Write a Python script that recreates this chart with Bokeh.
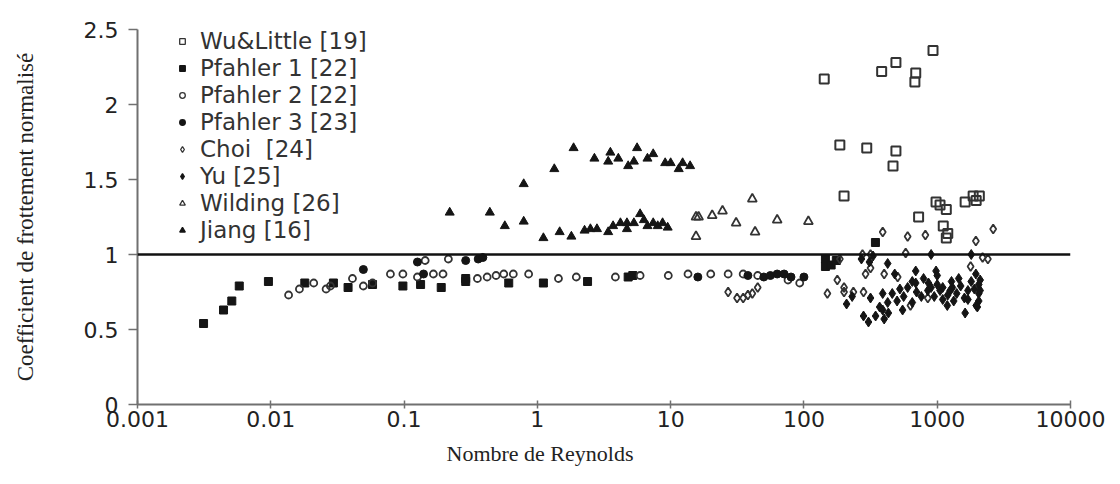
from bokeh.plotting import figure
from bokeh.models import (Legend, LegendItem, Span, Title, FixedTicker,
                          CustomJSTickFormatter)
from bokeh.embed import file_html
from bokeh.resources import INLINE

# ---------------- data ----------------
x_ticks = [0.001, 0.01, 0.1, 1, 10, 100, 1000, 10000]
x_tick_labels = ["0.001", "0.01", "0.1", "1", "10", "100", "1000", "10000"]
y_ticks = [0, 0.5, 1, 1.5, 2, 2.5]
y_tick_labels = ["0", "0.5", "1", "1.5", "2", "2.5"]

series_names = ["Wu&Little [19]", "Pfahler 1 [22]", "Pfahler 2 [22]", "Pfahler 3 [23]",
                "Choi  [24]", "Yu [25]", "Wilding [26]", "Jiang [16]"]

wu_re = [142, 383, 490, 690, 680, 930, 186, 296, 490, 466, 200, 980, 1050, 1170,
         1620, 1860, 2070, 1960, 725, 1110, 1200, 1170]
wu_cf = [2.17, 2.22, 2.28, 2.21, 2.15, 2.36, 1.73, 1.71, 1.69, 1.59, 1.39, 1.35, 1.33, 1.30,
         1.35, 1.39, 1.39, 1.36, 1.25, 1.19, 1.14, 1.11]

pf1_re = [0.00313, 0.00442, 0.0051, 0.0058, 0.0096, 0.018, 0.0295, 0.038, 0.058, 0.098,
          0.133, 0.19, 0.29, 0.29, 0.61, 1.11, 2.38, 4.8, 5.2, 145, 145, 160, 175, 344]
pf1_cf = [0.54, 0.63, 0.69, 0.79, 0.82, 0.81, 0.81, 0.78, 0.80, 0.79,
          0.80, 0.78, 0.84, 0.82, 0.81, 0.81, 0.82, 0.85, 0.86, 0.97, 0.92, 0.93, 0.96, 1.08]

pf2_re = [0.0136, 0.0164, 0.021, 0.026, 0.028, 0.041, 0.0495, 0.058, 0.079, 0.098,
          0.126, 0.144, 0.166, 0.196, 0.215, 0.355, 0.42, 0.49, 0.56, 0.66, 0.86, 1.44,
          1.96, 3.85, 5.9, 9.6, 13.5, 20, 27, 35, 45, 76, 93]
pf2_cf = [0.73, 0.77, 0.81, 0.77, 0.79, 0.84, 0.79, 0.81, 0.87, 0.87,
          0.85, 0.96, 0.87, 0.87, 0.97, 0.84, 0.85, 0.86, 0.87, 0.87, 0.87, 0.84,
          0.85, 0.85, 0.86, 0.86, 0.87, 0.87, 0.87, 0.87, 0.86, 0.83, 0.81]

pf3_re = [0.0495, 0.126, 0.14, 0.29, 0.36, 0.39, 16, 38, 50, 56, 63, 71, 80, 100]
pf3_cf = [0.90, 0.95, 0.87, 0.96, 0.97, 0.98, 0.85, 0.86, 0.85, 0.86, 0.87, 0.87, 0.85, 0.85]

choi_re = [27, 31.5, 35, 38, 41, 45, 390, 600, 815, 2630, 1950, 580, 1780, 2400, 2190,
           275, 316, 186, 316, 290, 400, 505, 178, 150, 200, 235, 280, 850, 630, 200]
choi_cf = [0.75, 0.71, 0.71, 0.73, 0.74, 0.78, 1.15, 1.12, 1.13, 1.17, 1.09, 1.01, 0.92, 0.97, 0.98,
           1.00, 1.00, 0.97, 0.91, 0.87, 0.87, 0.85, 0.83, 0.74, 0.75, 0.75, 0.75, 0.71, 0.66, 0.78]

yu_re = [310, 425, 690, 980, 1280, 1950, 2050, 2050, 2050, 2000, 209, 230, 316, 280, 305,
         345, 390, 425, 460, 390, 500, 525, 600, 650, 690, 790, 860, 900, 1000, 1050, 1100,
         1200, 1300, 1400, 1500, 1600, 1700, 1800, 1900, 1190, 1620, 1960, 1330, 650, 560,
         700, 760, 950, 1100, 1250, 330, 900, 1800, 270, 480, 850, 1000, 1450, 1700, 2100,
         2100, 370, 430, 550, 400]
yu_cf = [0.95, 0.94, 0.89, 0.89, 0.82, 0.87, 0.80, 0.74, 0.69, 0.65, 0.67, 0.72, 0.71, 0.59, 0.55,
         0.59, 0.63, 0.68, 0.74, 0.74, 0.69, 0.77, 0.78, 0.82, 0.81, 0.84, 0.81, 0.78, 0.80, 0.76, 0.78,
         0.73, 0.78, 0.74, 0.79, 0.71, 0.76, 0.82, 0.77, 0.66, 0.61, 0.66, 0.69, 0.68, 0.72,
         0.75, 0.72, 0.72, 0.70, 0.76, 0.99, 1.00, 1.00, 0.97, 0.87, 0.76, 0.86, 0.84, 0.70, 0.76,
         0.83, 0.65, 0.61, 0.63, 0.57]

wild_re = [41, 16.2, 20.5, 24.5, 31, 63, 108, 15.5, 43, 15.5]
wild_cf = [1.37, 1.25, 1.26, 1.29, 1.21, 1.23, 1.22, 1.12, 1.15, 1.25]

jiang_re = [0.22, 0.44, 0.57, 0.79, 0.79, 1.34, 1.87, 2.68, 3.53, 3.4, 4.05, 4.8, 5.3, 5.6,
            6.7, 7.4, 9.1, 10, 11.5, 12.3, 14,
            1.11, 1.47, 1.8, 2.26, 2.5, 2.8, 3.4, 3.7, 4.2, 4.7, 4.7, 5.3, 5.9, 6.3, 6.7,
            7.4, 8.0, 8.7, 9.5]
jiang_cf = [1.28, 1.28, 1.19, 1.22, 1.47, 1.57, 1.71, 1.64, 1.68, 1.62, 1.64, 1.59, 1.62, 1.71,
            1.64, 1.67, 1.61, 1.61, 1.57, 1.61, 1.59,
            1.11, 1.15, 1.12, 1.16, 1.17, 1.17, 1.15, 1.19, 1.21, 1.21, 1.17, 1.21, 1.27, 1.23, 1.19,
            1.21, 1.19, 1.21, 1.18]

reference_value = 1.0

# ---------------- figure ----------------
p = figure(width=1110, height=478, x_axis_type="log",
           x_range=(x_ticks[0], x_ticks[-1]), y_range=(y_ticks[0], y_ticks[-1]),
           output_backend="svg", toolbar_location=None,
           min_border_left=137, min_border_right=40, min_border_top=29, min_border_bottom=74)
p.outline_line_color = None
p.xgrid.visible = False
p.ygrid.visible = False
p.background_fill_color = "white"
p.border_fill_color = "white"

ink = "#151515"
grey = "#333333"
# marker, plot size, fill, line colour, line width
styles = [
    ("square", 9, None, grey, 2.0),
    ("square", 8, ink, ink, 1.0),
    ("circle", 7, None, grey, 1.8),
    ("circle", 8, ink, ink, 1.0),
    ("diamond", 9, None, grey, 1.8),
    ("diamond", 10, ink, ink, 1.0),
    ("triangle", 9, None, grey, 1.8),
    ("triangle", 9, ink, ink, 1.0),
]
data = [(wu_re, wu_cf), (pf1_re, pf1_cf), (pf2_re, pf2_cf), (pf3_re, pf3_cf),
        (choi_re, choi_cf), (yu_re, yu_cf), (wild_re, wild_cf), (jiang_re, jiang_cf)]

items = []
for name, (xs, ys), (mk, sz, fc, lc, lw) in zip(series_names, data, styles):
    kw = dict(marker=mk, fill_color=fc if fc else "white", fill_alpha=1.0 if fc else 0.0,
              line_color=lc)
    p.scatter(xs, ys, size=sz, line_width=lw, **kw)
    # small swatch used only by the legend: one point placed below the visible y range
    r_leg = p.scatter([xs[0]], [y_ticks[0] - 1], size=5.5, line_width=1.3, **kw)
    items.append(LegendItem(label=name, renderers=[r_leg]))

p.add_layout(Span(location=reference_value, dimension="width",
                  line_color="#111111", line_width=2.5))

legend = Legend(items=items, location=(38, 161), padding=0, spacing=0, margin=0,
                glyph_width=14, glyph_height=14, label_height=27, label_standoff=11,
                label_text_font="DejaVu Sans", label_text_font_size="23px",
                label_text_color="#333333", background_fill_alpha=0.0,
                border_line_alpha=0.0)
p.add_layout(legend)

# axes
p.xaxis.ticker = FixedTicker(ticks=x_ticks)
p.xaxis.formatter = CustomJSTickFormatter(args=dict(t=x_ticks, l=x_tick_labels), code="""
let b = 0, d = Infinity;
for (let i = 0; i < t.length; i++) {
  const e = Math.abs(Math.log10(t[i]) - Math.log10(tick));
  if (e < d) { d = e; b = i; }
}
return l[b];
""")
p.yaxis.ticker = FixedTicker(ticks=y_ticks)
p.yaxis.formatter = CustomJSTickFormatter(args=dict(t=y_ticks, l=y_tick_labels), code="""
let b = 0, d = Infinity;
for (let i = 0; i < t.length; i++) {
  const e = Math.abs(t[i] - tick);
  if (e < d) { d = e; b = i; }
}
return l[b];
""")

for ax in (p.xaxis[0], p.yaxis[0]):
    ax.major_label_text_font = "DejaVu Sans"
    ax.major_label_text_font_size = "22px"
    ax.major_label_text_color = "#222222"
    ax.minor_tick_line_color = None
    ax.axis_line_color = "#707070"
    ax.axis_line_width = 2
    ax.major_tick_line_color = "#707070"
    ax.major_tick_line_width = 1.5

p.xaxis.major_tick_in = 4
p.xaxis.major_tick_out = 4
p.xaxis.major_label_standoff = 2

p.yaxis.major_tick_in = 0
p.yaxis.major_tick_out = 9
p.yaxis.major_label_standoff = 10
p.yaxis.axis_label = "Coefficient de frottement normalisé"
p.yaxis.axis_label_text_font = "Liberation Serif"
p.yaxis.axis_label_text_font_size = "23px"
p.yaxis.axis_label_text_font_style = "normal"
p.yaxis.axis_label_text_color = "#222222"
p.yaxis.axis_label_standoff = 43

p.add_layout(Title(text="Nombre de Reynolds", align="left", offset=309, standoff=18,
                   text_font="Liberation Serif", text_font_size="22px",
                   text_font_style="normal", text_color="#222222"), "below")

open("out.html", "w").write(file_html(p, INLINE))
